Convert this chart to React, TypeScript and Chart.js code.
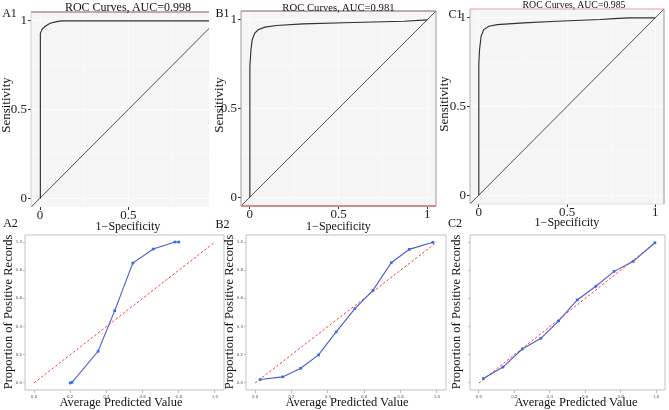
import React, { useEffect, useRef } from "react";
import { Chart, registerables } from "chart.js";

Chart.register(...registerables);

const FONT = "'Liberation Serif', 'Times New Roman', Times, serif";
const PAGE_W = 669;
const PAGE_H = 410;

// ---------------- data ----------------
const ROC_TICKS = [0, 0.5, 1];
const ROC_MINOR = [0.25, 0.75];
const CAL_TICKS = [0, 0.2, 0.4, 0.6, 0.8, 1];
const DIAG = [-0.1, 1.1];
const PERFECT = [0, 1];
const AUC = ["0.998", "0.981", "0.985"];

// ROC curves (1 - specificity, sensitivity)
const A1_FPR = [0, 0, 0.004, 0.012, 0.028, 0.057, 0.094, 0.123, 1];
const A1_TPR = [0, 0.874, 0.93, 0.952, 0.968, 0.987, 0.996, 1, 1];
const B1_FPR = [0, 0, 0.006, 0.013, 0.028, 0.047, 0.085, 0.15, 0.3, 0.58, 0.87, 1];
const B1_TPR = [0, 0.737, 0.83, 0.887, 0.925, 0.944, 0.959, 0.968, 0.977, 0.985, 0.992, 1];
const C1_FPR = [0, 0, 0.004, 0.013, 0.028, 0.057, 0.104, 0.255, 0.443, 0.689, 0.764, 0.85, 1];
const C1_TPR = [0, 0.745, 0.82, 0.896, 0.934, 0.953, 0.962, 0.972, 0.981, 0.991, 0.996, 1, 1];

// Calibration curves (average predicted value, proportion of positive records)
const A2_PRED = [0.2, 0.21, 0.354, 0.446, 0.546, 0.659, 0.779, 0.8];
const A2_POS = [0.0, 0.005, 0.225, 0.513, 0.851, 0.95, 1.0, 1.0];
const B2_PRED = [0.028, 0.152, 0.251, 0.349, 0.446, 0.549, 0.648, 0.749, 0.848, 0.978];
const B2_POS = [0.024, 0.043, 0.104, 0.199, 0.362, 0.527, 0.657, 0.853, 0.948, 0.998];
const C2_PRED = [0.026, 0.136, 0.245, 0.35, 0.45, 0.555, 0.66, 0.763, 0.871, 0.993];
const C2_POS = [0.031, 0.113, 0.241, 0.317, 0.44, 0.589, 0.686, 0.792, 0.863, 0.995];

// ---------------- helpers ----------------
const pairs = (xs: number[], ys: number[]) => xs.map((x, i) => ({ x, y: ys[i] }));
const isMinor = (v: any) => ROC_MINOR.includes(v);

const framePlugin = {
  id: "panelFrame",
  beforeDraw(chart: any, _a: any, opts: any) {
    const { ctx, chartArea: a } = chart;
    if (opts && opts.bg) {
      ctx.save();
      ctx.fillStyle = opts.bg;
      ctx.fillRect(a.left, a.top, a.right - a.left, a.bottom - a.top);
      ctx.restore();
    }
  },
  afterDatasetsDraw(chart: any, _a: any, opts: any) {
    const { ctx, chartArea: a } = chart;
    const line = (s: any, x1: number, y1: number, x2: number, y2: number) => {
      if (!s) return;
      ctx.save();
      ctx.strokeStyle = s.c;
      ctx.lineWidth = s.w || 1;
      ctx.beginPath();
      ctx.moveTo(x1, y1);
      ctx.lineTo(x2, y2);
      ctx.stroke();
      ctx.restore();
    };
    if (!opts) return;
    line(opts.top, a.left, a.top, a.right, a.top);
    line(opts.bottom, a.left, a.bottom, a.right, a.bottom);
    line(opts.left, a.left, a.top, a.left, a.bottom);
    line(opts.right, a.right, a.top, a.right, a.bottom);
  },
};
Chart.register(framePlugin);

type Area = { l: number; t: number; r: number; b: number };

function rocConfig(fpr: number[], tpr: number[], area: Area, xr: number[], frame: any) {
  const YW = 30;
  const XH = 30;
  const tickSet = (min: number, max: number) =>
    [...ROC_TICKS, ...ROC_MINOR]
      .filter((v) => v >= min && v <= max)
      .sort((a, b) => a - b)
      .map((v) => ({ value: v }));
  const grid = {
    color: "#fcfcfc",
    lineWidth: (c: any) => (c.tick && isMinor(c.tick.value) ? 0.5 : 1),
    tickColor: (c: any) => (c.tick && isMinor(c.tick.value) ? "rgba(0,0,0,0)" : "#333333"),
    tickLength: 3,
    drawTicks: true,
  };
  const tickFont = { family: FONT, size: 13, lineHeight: 1 };
  return {
    type: "scatter" as const,
    data: {
      datasets: [
        {
          data: pairs(fpr, tpr),
          showLine: true,
          borderColor: "#303030",
          borderWidth: 1.15,
          pointRadius: 0,
        },
        {
          data: pairs(DIAG, DIAG),
          showLine: true,
          borderColor: "#1a1a1a",
          borderWidth: 0.75,
          pointRadius: 0,
        },
      ],
    },
    options: {
      responsive: false,
      animation: false as const,
      events: [],
      layout: {
        padding: { left: area.l - YW, top: area.t, right: PAGE_W - area.r, bottom: PAGE_H - area.b - XH },
      },
      plugins: { legend: { display: false }, tooltip: { enabled: false }, panelFrame: frame },
      scales: {
        x: {
          type: "linear" as const,
          min: xr[0],
          max: xr[1],
          afterBuildTicks: (s: any) => {
            s.ticks = tickSet(xr[0], xr[1]);
          },
          afterFit: (s: any) => {
            s.height = XH;
          },
          border: { display: false },
          grid,
          ticks: {
            autoSkip: false,
            maxRotation: 0,
            padding: -1,
            color: "#222222",
            font: tickFont,
            callback: (v: any) => (isMinor(v) ? "" : String(v)),
          },
        },
        y: {
          type: "linear" as const,
          min: -0.05,
          max: 1.05,
          afterBuildTicks: (s: any) => {
            s.ticks = tickSet(-0.05, 1.05);
          },
          afterFit: (s: any) => {
            s.width = YW;
          },
          border: { display: false },
          grid,
          ticks: {
            autoSkip: false,
            padding: 1,
            color: "#222222",
            font: tickFont,
            callback: (v: any) => (isMinor(v) ? "" : String(v)),
          },
        },
      },
    },
  };
}

function calConfig(pred: number[], pos: number[], area: Area, yTickPad: number) {
  const YW = 20;
  const XH = 15;
  const edge = { c: "#c2c2c2", w: 1 };
  const tickFont = { family: "'DejaVu Sans', sans-serif", size: 4, lineHeight: 1 };
  const mk = (min: number, max: number) => (s: any) => {
    s.ticks = CAL_TICKS.filter((v) => v >= min && v <= max).map((v) => ({ value: v }));
  };
  return {
    type: "scatter" as const,
    data: {
      datasets: [
        {
          data: pairs(pred, pos),
          showLine: true,
          borderColor: "#4b58d4",
          borderWidth: 1.1,
          pointRadius: 1.9,
          pointStyle: "rect",
          pointBackgroundColor: "#2f6fe8",
          pointBorderColor: "#2f6fe8",
          pointBorderWidth: 0,
        },
        {
          data: pairs(PERFECT, PERFECT),
          showLine: true,
          borderColor: "#ff3a3a",
          borderWidth: 1,
          borderDash: [2.5, 2],
          pointRadius: 0,
        },
      ],
    },
    options: {
      responsive: false,
      animation: false as const,
      events: [],
      layout: {
        padding: { left: area.l - YW, top: area.t, right: PAGE_W - area.r, bottom: PAGE_H - area.b - XH },
      },
      plugins: {
        legend: { display: false },
        tooltip: { enabled: false },
        panelFrame: { top: edge, bottom: edge, left: edge, right: edge },
      },
      scales: {
        x: {
          type: "linear" as const,
          min: -0.05,
          max: 1.05,
          afterBuildTicks: mk(-0.05, 1.05),
          afterFit: (s: any) => {
            s.height = XH;
          },
          border: { display: false },
          grid: { drawOnChartArea: false, tickLength: 3, tickColor: "#bbbbbb" },
          ticks: {
            autoSkip: false,
            maxRotation: 0,
            padding: 1.5,
            color: "#555555",
            font: tickFont,
            callback: (v: any) => Number(v).toFixed(1),
          },
        },
        y: {
          type: "linear" as const,
          min: -0.05,
          max: 1.05,
          afterBuildTicks: mk(-0.05, 1.05),
          afterFit: (s: any) => {
            s.width = YW;
          },
          border: { display: false },
          grid: { drawOnChartArea: false, tickLength: 2, tickColor: "#bbbbbb" },
          ticks: {
            autoSkip: false,
            padding: yTickPad,
            color: "#555555",
            font: tickFont,
            callback: (v: any) => Number(v).toFixed(1),
          },
        },
      },
    },
  };
}

// ---------------- layout ----------------
const BG = "#f4f5f4";
const CHARTS = [
  () =>
    rocConfig(A1_FPR, A1_TPR, { l: 31, t: 12, r: 209, b: 207 }, [-0.051, 0.957], {
      bg: BG,
      top: { c: "#8c5a5a", w: 1.2 },
      left: { c: "#d0d0d0", w: 1 },
    }),
  () =>
    rocConfig(B1_FPR, B1_TPR, { l: 241, t: 11, r: 436, b: 206 }, [-0.05, 1.05], {
      bg: BG,
      top: { c: "#8a6060", w: 1.2 },
      bottom: { c: "#d48a8a", w: 2 },
      left: { c: "#9a9a9a", w: 1 },
      right: { c: "#9a9a9a", w: 1 },
    }),
  () =>
    rocConfig(C1_FPR, C1_TPR, { l: 470, t: 9, r: 664, b: 204 }, [-0.05, 1.05], {
      bg: BG,
      top: { c: "#e8a0a0", w: 1.2 },
      left: { c: "#b0b0b0", w: 1 },
      right: { c: "#999999", w: 1 },
      bottom: { c: "#dddddd", w: 1 },
    }),
  () => calConfig(A2_PRED, A2_POS, { l: 25, t: 235, r: 224, b: 390 }, 1),
  () => calConfig(B2_PRED, B2_POS, { l: 246, t: 235, r: 446, b: 390 }, 1),
  () => calConfig(C2_PRED, C2_POS, { l: 470, t: 235, r: 666, b: 390 }, -9),
];

type Label = { t: string; x: number; y: number; s: number; rot?: boolean };
const LABELS: Label[] = [
  { t: "A1", x: 9.5, y: 13, s: 12 },
  { t: "B1", x: 222.5, y: 13, s: 12 },
  { t: "C1", x: 455.5, y: 13.5, s: 12 },
  { t: "ROC Curves, AUC=" + AUC[0], x: 128, y: 7, s: 12 },
  { t: "ROC Curves, AUC=" + AUC[1], x: 338.5, y: 6.5, s: 10.7 },
  { t: "ROC Curves, AUC=" + AUC[2], x: 574, y: 4.7, s: 9.8 },
  { t: "Sensitivity", x: 5, y: 105, s: 13, rot: true },
  { t: "Sensitivity", x: 218, y: 105, s: 13, rot: true },
  { t: "Sensitivity", x: 442.5, y: 104, s: 13, rot: true },
  { t: "1\u2212Specificity", x: 128, y: 226, s: 12 },
  { t: "1\u2212Specificity", x: 338.5, y: 226, s: 12 },
  { t: "1\u2212Specificity", x: 567, y: 222, s: 12 },
  { t: "A2", x: 10.5, y: 223, s: 12 },
  { t: "B2", x: 222.5, y: 223.5, s: 12 },
  { t: "C2", x: 455, y: 223, s: 12 },
  { t: "Proportion of Positive Records", x: 7.5, y: 312, s: 12.5, rot: true },
  { t: "Proportion of Positive Records", x: 229, y: 312, s: 12.5, rot: true },
  { t: "Proportion of Positive Records", x: 456, y: 312, s: 12.5, rot: true },
  { t: "Average Predicted Value", x: 121, y: 402, s: 12.5 },
  { t: "Average Predicted Value", x: 347, y: 402, s: 12.5 },
  { t: "Average Predicted Value", x: 576, y: 402, s: 12.5 },
];

function ChartLayer({ make }: { make: () => any }) {
  const ref = useRef<HTMLCanvasElement>(null);
  useEffect(() => {
    const chart = new Chart(ref.current as HTMLCanvasElement, make());
    return () => chart.destroy();
  }, []);
  return (
    <canvas
      ref={ref}
      width={PAGE_W}
      height={PAGE_H}
      style={{ position: "absolute", left: 0, top: 0, width: PAGE_W, height: PAGE_H }}
    />
  );
}

export default function App() {
  return (
    <div
      style={{
        position: "absolute",
        left: 0,
        top: 0,
        width: PAGE_W,
        height: PAGE_H,
        overflow: "hidden",
        background: "#ffffff",
      }}
    >
      {CHARTS.map((make, i) => (
        <ChartLayer key={i} make={make} />
      ))}
      {LABELS.map((l, i) => (
        <div
          key={"l" + i}
          style={{
            position: "absolute",
            left: l.x,
            top: l.y,
            transform: "translate(-50%, -50%)" + (l.rot ? " rotate(-90deg)" : ""),
            whiteSpace: "nowrap",
            fontFamily: FONT,
            fontSize: l.s,
            lineHeight: 1,
            color: "#111111",
          }}
        >
          {l.t}
        </div>
      ))}
    </div>
  );
}
